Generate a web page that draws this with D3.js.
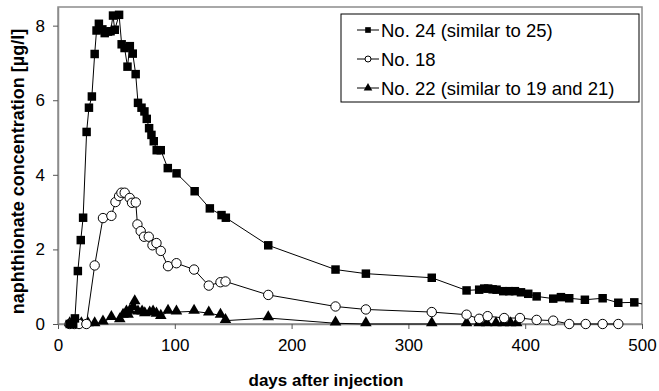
<!DOCTYPE html>
<html>
<head>
<meta charset="utf-8">
<script src="https://cdn.jsdelivr.net/npm/d3@7"></script>
<style>
  body { margin: 0; background: #fff; }
  text { font-family: "Liberation Sans", Arial, sans-serif; }
</style>
</head>
<body>
<div id="chart"></div>
<script>
var width = 659;
var height = 391;

// No. 24 (similar to 25) - filled squares
var days24 = [10, 13, 14.5, 17, 19.5, 21.5, 24.5, 26.5, 29, 31.4, 33, 35, 38, 40, 42.8, 45, 47.1, 48.6, 52.3, 54.5, 57, 59.5, 61.5, 64, 66.5, 68.5, 71.5, 74, 76, 78, 80, 82, 84.5, 88, 94, 101.5, 117, 130, 140, 143.7, 180, 237.6, 263.6, 320, 349.8, 360.6, 364.9, 368.3, 372.1, 375.5, 381.2, 386.3, 391.2, 396.4, 402.6, 409.8, 424, 430.6, 437.7, 451.1, 466.3, 479.7, 493.4, 506];
var conc24 = [0, 0, 0.15, 1.42, 2.25, 2.85, 5.15, 5.8, 6.1, 7.24, 7.87, 8.05, 7.9, 7.8, 7.84, 7.85, 8.27, 7.89, 8.29, 7.5, 7.4, 6.9, 7.45, 7.25, 6.7, 5.93, 5.8, 5.7, 5.5, 5.25, 5.07, 4.9, 4.66, 4.66, 4.18, 4.04, 3.56, 3.1, 2.92, 2.85, 2.11, 1.46, 1.35, 1.24, 0.9, 0.92, 0.95, 0.95, 0.93, 0.92, 0.88, 0.88, 0.88, 0.85, 0.81, 0.74, 0.68, 0.72, 0.69, 0.65, 0.69, 0.57, 0.58, 0.5];

// No. 18 - open circles
var days18 = [10, 14, 18, 24.3, 31.4, 38.5, 45.7, 49.2, 52.3, 54.3, 57.1, 61.4, 63.4, 66.6, 68, 70.8, 73.7, 77.7, 80.9, 84.3, 88, 94.2, 101.4, 116.5, 129.1, 139.1, 143.4, 180, 237.6, 263.6, 320, 349.8, 360.6, 367.8, 382, 395.5, 409.8, 424, 437.7, 451.8, 466.3, 479.7];
var conc18 = [0, 0, 0, 0, 1.57, 2.84, 2.9, 3.27, 3.43, 3.52, 3.52, 3.38, 3.25, 3.26, 2.67, 2.49, 2.34, 2.34, 2.11, 2.17, 1.96, 1.55, 1.63, 1.46, 1.03, 1.12, 1.14, 0.78, 0.47, 0.39, 0.32, 0.25, 0.14, 0.21, 0.16, 0.16, 0.11, 0.09, 0, 0, 0, 0];

// No. 22 (similar to 19 and 21) - filled triangles
var days22 = [10, 14.3, 20, 25.7, 31.4, 38.5, 45.7, 52.9, 55.7, 58.6, 60, 61.4, 64.2, 65.7, 68.5, 72, 74.3, 78.5, 81.4, 84.3, 88, 94.2, 101.4, 116.5, 129.1, 139.1, 143.4, 180, 237.6, 263.6, 320, 349.8, 360.6, 367, 375, 381.2, 387.5, 392.7];
var conc22 = [0, 0, 0, 0, 0, 0.05, 0.17, 0.11, 0.23, 0.32, 0.23, 0.34, 0.44, 0.59, 0.32, 0.32, 0.27, 0.29, 0.32, 0.26, 0.2, 0.34, 0.32, 0.34, 0.29, 0.23, 0.09, 0.16, 0.02, 0, 0, 0, 0, 0, 0, 0, 0, 0];

var seriesNames = ["No. 24 (similar to 25)", "No. 18", "No. 22 (similar to 19 and 21)"];
var xTicks = [0, 100, 200, 300, 400, 500];
var yTicks = [0, 2, 4, 6, 8];

var margin = { top: 7, right: 17, bottom: 67, left: 58 };
var innerW = width - margin.left - margin.right;
var innerH = height - margin.top - margin.bottom;

var svg = d3.select("#chart")
    .append("svg")
    .attr("width", width)
    .attr("height", height);

var x = d3.scaleLinear().domain([0, 500]).range([0, innerW]);
var y = d3.scaleLinear().domain([0, 8.5]).range([innerH, 0]);

var g = svg.append("g")
    .attr("transform", "translate(" + margin.left + "," + margin.top + ")");

svg.append("defs").append("clipPath").attr("id", "clip")
    .append("rect").attr("x", 0).attr("y", -10).attr("width", innerW).attr("height", innerH + 20);

// frame
g.append("rect")
    .attr("x", 0).attr("y", 0)
    .attr("width", innerW).attr("height", innerH)
    .attr("fill", "none")
    .attr("stroke", "#8c8c8c")
    .attr("stroke-width", 1.5);

var xAxis = g.append("g")
    .attr("transform", "translate(0," + innerH + ")")
    .call(d3.axisBottom(x).tickValues(xTicks).tickSize(5).tickSizeOuter(0).tickPadding(10));
var yAxis = g.append("g")
    .call(d3.axisLeft(y).tickValues(yTicks).tickSize(5).tickSizeOuter(0).tickPadding(8));
[xAxis, yAxis].forEach(function(a) {
    a.select(".domain").attr("stroke", "#8c8c8c").attr("stroke-width", 1.5);
    a.selectAll(".tick line").attr("stroke", "#555");
    a.selectAll(".tick text")
        .attr("font-family", "Liberation Sans, Arial, sans-serif")
        .attr("font-size", 17)
        .attr("fill", "#000");
});

svg.append("text")
    .attr("x", margin.left + innerW / 2 - 24)
    .attr("y", 386)
    .attr("text-anchor", "middle")
    .attr("font-weight", "bold")
    .attr("font-size", 17)
    .text("days after injection");

svg.append("text")
    .attr("transform", "translate(24," + (margin.top + innerH / 2 + 6) + ") rotate(-90)")
    .attr("text-anchor", "middle")
    .attr("font-weight", "bold")
    .attr("font-size", 18)
    .text("naphthionate concentration [µg/l]");

var line = d3.line().x(function(d) { return x(d[0]); }).y(function(d) { return y(d[1]); });

var plot = g.append("g").attr("clip-path", "url(#clip)");

var sq = d3.symbol().type(d3.symbolSquare).size(72);
var tri = d3.symbol().type(d3.symbolTriangle).size(58);

function drawSeries(days, conc, kind) {
    var pts = d3.zip(days, conc);
    plot.append("path").datum(pts)
        .attr("d", line)
        .attr("fill", "none")
        .attr("stroke", "#000")
        .attr("stroke-width", 1);
    var m = plot.append("g");
    drawMarkers(m, pts, kind);
}

function drawMarkers(m, pts, kind) {
    if (kind === "circle") {
        m.selectAll("circle").data(pts).enter().append("circle")
            .attr("cx", function(d) { return x(d[0]); })
            .attr("cy", function(d) { return y(d[1]); })
            .attr("r", 4.7)
            .attr("fill", "#fff")
            .attr("stroke", "#000")
            .attr("stroke-width", 1);
    } else {
        m.selectAll("path").data(pts).enter().append("path")
            .attr("transform", function(d) { return "translate(" + x(d[0]) + "," + (y(d[1]) - (kind === "tri" ? 1 : 0)) + ")"; })
            .attr("d", kind === "tri" ? tri : sq)
            .attr("fill", "#000");
    }
}

drawSeries(days22, conc22, "tri");
drawSeries(days18, conc18, "circle");
drawSeries(days24, conc24, "square");

// legend
var lg = svg.append("g").attr("transform", "translate(341,14)");
lg.append("rect")
    .attr("x", 0).attr("y", 0)
    .attr("width", 298).attr("height", 88)
    .attr("fill", "#fff")
    .attr("stroke", "#000")
    .attr("stroke-width", 1);

var kinds = ["square", "circle", "tri"];
seriesNames.forEach(function(name, i) {
    var ly = 16 + i * 29;
    lg.append("line")
        .attr("x1", 16).attr("x2", 38)
        .attr("y1", ly).attr("y2", ly)
        .attr("stroke", "#000");
    var mk = lg.append("g");
    if (kinds[i] === "circle") {
        mk.append("circle").attr("cx", 27).attr("cy", ly).attr("r", 3)
            .attr("fill", "#fff").attr("stroke", "#000");
    } else {
        mk.append("path")
            .attr("transform", "translate(27," + ly + ")")
            .attr("d", d3.symbol().type(kinds[i] === "tri" ? d3.symbolTriangle : d3.symbolSquare).size(32))
            .attr("fill", "#000");
    }
    lg.append("text")
        .attr("x", 40).attr("y", ly + 6.5)
        .attr("font-size", 18.5)
        .text(name);
});
</script>
</body>
</html>
